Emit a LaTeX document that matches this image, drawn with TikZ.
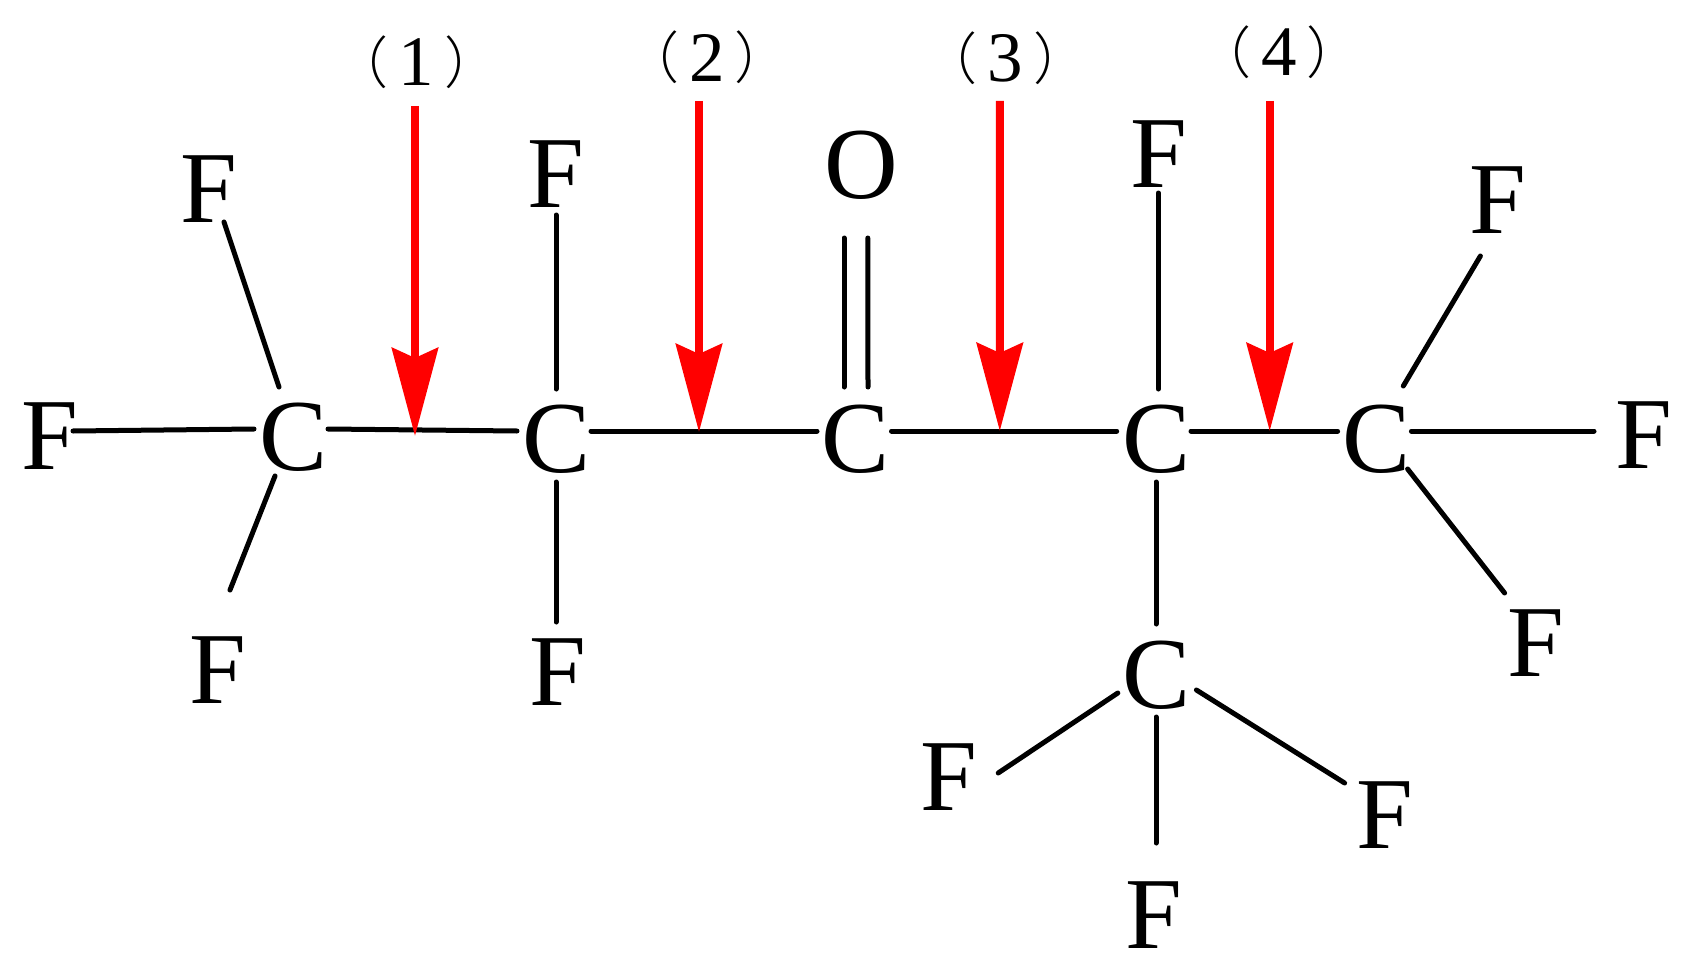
\documentclass[tikz,border=0pt]{standalone}
\usepackage{fontspec}
\setmainfont{Liberation Serif}
\newfontfamily\cjk{Noto Sans CJK SC Light}
\usetikzlibrary{arrows.meta}
\tikzset{
  atom/.style={inner sep=0pt,anchor=base,font=\fontsize{102}{110}\selectfont},
  site/.style={inner sep=0pt,anchor=base,font=\fontsize{71}{80}\selectfont},
  bond/.style={draw=black,line width=5pt,line cap=round},
  cut/.style={draw=red,line width=8pt,-{Stealth[length=88pt,width=46pt,inset=10pt]},red}
}
\newcommand{\bond}[6]{\draw[bond] ([shift={(#2,#3)}]#1.base) -- ([shift={(#5,#6)}]#4.base);}
\newcommand{\sitelabel}[1]{\raisebox{2.5pt}{\fontsize{56}{60}\selectfont\cjk （}\kern10pt #1\kern10pt\raisebox{2.5pt}{\fontsize{56}{60}\selectfont\cjk ）}}
\begin{document}
\begin{tikzpicture}[x=1pt,y=-1pt]
\useasboundingbox (0,0) rectangle (1695,979);
% atoms
\node[atom] (C1) at (293.5,470) {C};
\node[atom] (C2) at (556.5,472) {C};
\node[atom] (C3) at (856,472) {C};
\node[atom] (C4) at (1156.7,472) {C};
\node[atom] (C5) at (1376.4,472) {C};
\node[atom] (C6) at (1156.7,708) {C};
\node[atom] (O)  at (861.4,198) {O};
\node[atom] (F0) at (49.5,469) {F};
\node[atom] (Fa) at (208.5,222) {F};
\node[atom] (Fb) at (217.5,703) {F};
\node[atom] (Fc) at (556,207) {F};
\node[atom] (Fd) at (557.5,705) {F};
\node[atom] (Fe) at (1159.2,187) {F};
\node[atom] (Ff) at (1498.1,233) {F};
\node[atom] (Fg) at (1643.8,468) {F};
\node[atom] (Fh) at (1535.4,676) {F};
\node[atom] (Fi) at (948.4,810) {F};
\node[atom] (Fj) at (1384.8,848) {F};
\node[atom] (Fk) at (1154.2,948) {F};
% site labels
\node[site] (L1) at (416.5,86) {\sitelabel{1}};
\node[site] (L2) at (707,81.5) {\sitelabel{2}};
\node[site] (L3) at (1005.4,82) {\sitelabel{3}};
\node[site] (L4) at (1279.2,76) {\sitelabel{4}};
% bonds
\bond{F0}{23.5}{-38}{C1}{-39.5}{-41}
\bond{C1}{34.5}{-41}{C2}{-39.5}{-41}
\bond{C2}{34.5}{-41}{C3}{-39}{-41}
\bond{C3}{35.5}{-41}{C4}{-40}{-41}
\bond{C4}{34.3}{-41}{C5}{-38.8}{-41}
\bond{C5}{35}{-41}{Fg}{-49.8}{-37}
\bond{C1}{-14.5}{-83}{Fa}{15.5}{0}
\bond{C1}{-18.5}{6}{Fb}{12.5}{-113}
\bond{C2}{-0.5}{-83}{Fc}{0}{8}
\bond{C2}{-0.5}{10}{Fd}{-1.5}{-83}
\bond{C3}{-12}{-85}{O}{-17.4}{40}
\bond{C3}{12}{-85}{O}{6.4}{40}
\bond{C4}{1.5}{-83}{Fe}{-1}{6}
\bond{C4}{-0.7}{10}{C6}{-0.7}{-84}
\bond{C5}{26.9}{-86}{Ff}{-17.7}{23}
\bond{C5}{31.2}{-3}{Fh}{-30.8}{-83}
\bond{C6}{-0.7}{9}{Fk}{1.8}{-105}
\bond{C6}{-38.9}{-15}{Fi}{49.8}{-37}
\bond{C6}{39.7}{-18}{Fj}{-40.2}{-65}
% cut-site arrows
\coordinate (t1) at (415,436);
\coordinate (t2) at (699,432);
\coordinate (t3) at (999.8,431);
\coordinate (t4) at (1269.7,431);
\draw[cut] ([shift={(-1.5,20)}]L1.base) -- (t1);
\draw[cut] ([shift={(-8,19.5)}]L2.base) -- (t2);
\draw[cut] ([shift={(-5.6,19)}]L3.base) -- (t3);
\draw[cut] ([shift={(-9.5,25)}]L4.base) -- (t4);
\end{tikzpicture}
\end{document}
